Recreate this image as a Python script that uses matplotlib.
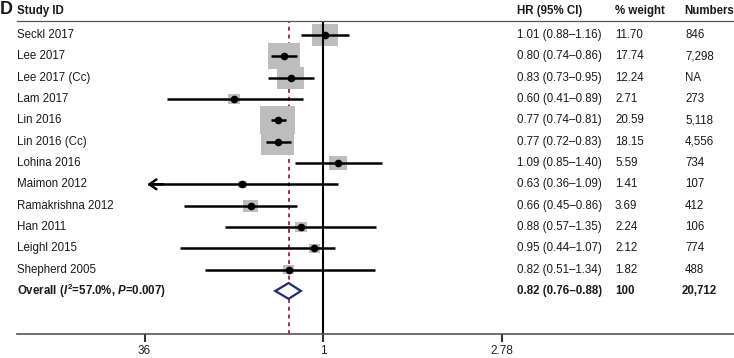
import matplotlib.pyplot as plt
import numpy as np
from matplotlib.patches import Rectangle, Polygon

plt.rcParams["font.family"] = ["Liberation Sans", "DejaVu Sans"]
plt.rcParams["mathtext.fontset"] = "custom"
plt.rcParams["mathtext.it"] = "Liberation Sans:italic:bold"
plt.rcParams["mathtext.rm"] = "Liberation Sans:bold"
plt.rcParams["mathtext.bf"] = "Liberation Sans:bold"

# data
studies = ["Seckl 2017", "Lee 2017", "Lee 2017 (Cc)", "Lam 2017", "Lin 2016",
           "Lin 2016 (Cc)", "Lohina 2016", "Maimon 2012", "Ramakrishna 2012",
           "Han 2011", "Leighl 2015", "Shepherd 2005"]
hr = [1.01, 0.80, 0.83, 0.60, 0.77, 0.77, 1.09, 0.63, 0.66, 0.88, 0.95, 0.82]
lo = [0.88, 0.74, 0.73, 0.41, 0.74, 0.72, 0.85, 0.36, 0.45, 0.57, 0.44, 0.51]
hi = [1.16, 0.86, 0.95, 0.89, 0.81, 0.83, 1.40, 1.09, 0.86, 1.35, 1.07, 1.34]
weight = ["11.70", "17.74", "12.24", "2.71", "20.59", "18.15", "5.59",
          "1.41", "3.69", "2.24", "2.12", "1.82"]
numbers = ["846", "7,298", "NA", "273", "5,118", "4,556", "734",
           "107", "412", "106", "774", "488"]

overall_hr, overall_lo, overall_hi = 0.82, 0.76, 0.88
overall_label = r"Overall ($I^{2}$=57.0%, $P$=0.007)"
overall_weight = "100"
overall_numbers = "20,712"

xticks = [0.36, 1, 2.78]
xticklabels = ["36", "1", "2.78"]
axis_min = 0.36

W, H = 734, 358
fig = plt.figure(figsize=(W / 100, H / 100), dpi=100)

# axes spans from pixel x=17 to right edge, y from header line to bottom axis line
top_px, bot_px = 20.7, 334
ax = fig.add_axes([17 / W, 1 - bot_px / H, 1 - 17 / W, (bot_px - top_px) / H])

px_per_unit = 175.0
x0_px = 323.3 - 17  # position of ln(1) inside axes
xmin = -x0_px / px_per_unit
xmax = (W - 17 - x0_px) / px_per_unit
row0_px, row_px = 35.0, 21.33
ymin = (top_px - row0_px) / row_px
ymax = (bot_px - row0_px) / row_px
ax.set_xlim(xmin, xmax)
ax.set_ylim(ymax, ymin)

for s in ["left", "right"]:
    ax.spines[s].set_visible(False)
ax.spines["top"].set_color("#555555")
ax.spines["top"].set_linewidth(0.9)
ax.spines["bottom"].set_color("#555555")
ax.spines["bottom"].set_linewidth(1.2)
ax.set_yticks([])
ax.set_xticks(np.log(xticks))
ax.set_xticklabels(xticklabels, fontsize=8.5, color="#222222")
ax.tick_params(axis="x", length=6, width=1.5, color="#333333", pad=2)

# reference lines
ax.axvline(0, color="black", lw=1.5, zorder=2)
ax.axvline(np.log(overall_hr), color="#a3304a", lw=1.4, ls=(0, (2, 2)), zorder=1)

# study boxes, CIs, points
box_w = 7.6 / px_per_unit
box_h = 0.82 * 7.6 / row_px
for i in range(len(studies)):
    w = float(weight[i])
    bw = box_w * np.sqrt(w)
    bh = box_h * np.sqrt(w)
    c = np.log(hr[i])
    ax.add_patch(Rectangle((c - bw / 2, i - bh / 2), bw, bh,
                           facecolor="#bdbdbd", edgecolor="none", zorder=1.5))
    if lo[i] <= axis_min:
        ax.plot([np.log(axis_min) + 0.02, np.log(hi[i])], [i, i], color="black",
                lw=1.8, zorder=3, solid_capstyle="butt")
        ax.annotate("", xy=(np.log(axis_min), i), xytext=(np.log(axis_min) + 0.12, i),
                    arrowprops=dict(arrowstyle="->,head_length=0.5,head_width=0.35",
                                    lw=1.8, color="black"), zorder=3)
    else:
        ax.plot([np.log(lo[i]), np.log(hi[i])], [i, i], color="black", lw=1.8,
                zorder=3, solid_capstyle="butt")
    ax.plot(c, i, "o", color="black", ms=4.5, zorder=4)

# overall diamond
n = len(studies)
dh = 0.37
diamond = Polygon([(np.log(overall_lo), n), (np.log(overall_hr), n - dh),
                   (np.log(overall_hi), n), (np.log(overall_hr), n + dh)],
                  closed=True, facecolor="white", edgecolor="#1f2a78", lw=1.6,
                  zorder=4)
ax.add_patch(diamond)

# text columns (figure pixel positions)
fs = 8.3
tc = "#1a1a1a"


def ftext(xp, yp, s, **kw):
    kw.setdefault("fontsize", fs)
    fig.text(xp / W, 1 - yp / H, s, va="center", ha="left", color=tc, **kw)


ftext(0, 10, "D", fontsize=13, fontweight="bold")
ftext(17, 10.7, "Study ID", fontweight="bold")
ftext(517, 10.7, "HR (95% CI)", fontweight="bold")
ftext(615, 10.7, "% weight", fontweight="bold")
ftext(684, 10.7, "Numbers", fontweight="bold")

for i in range(n):
    yp = row0_px + row_px * i
    ftext(17, yp, studies[i])
    ftext(517, yp, f"{hr[i]:.2f} ({lo[i]:.2f}\u2013{hi[i]:.2f})")
    ftext(615, yp, weight[i])
    ftext(685, yp, numbers[i])

yp = row0_px + row_px * n
ftext(17, yp, overall_label, fontweight="bold")
ftext(517, yp, f"{overall_hr:.2f} ({overall_lo:.2f}\u2013{overall_hi:.2f})",
      fontweight="bold")
ftext(615, yp, overall_weight, fontweight="bold")
ftext(682, yp, overall_numbers, fontweight="bold")

fig.savefig("out.png", dpi=100)
